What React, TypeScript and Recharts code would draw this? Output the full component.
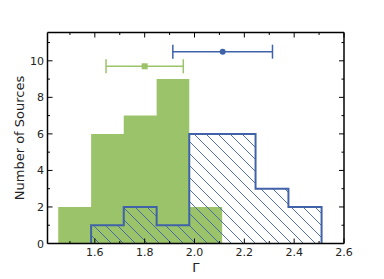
import { ComposedChart, Area, Scatter, ErrorBar, XAxis, YAxis } from 'recharts';

// histogram bins (photon index Gamma)
const binEdges = [1.453, 1.585, 1.716, 1.848, 1.979, 2.111, 2.245, 2.377, 2.51];
const greenCounts = [2, 6, 7, 9, 2, 0, 0, 0];
const blueCounts = [0, 1, 2, 1, 6, 6, 3, 2];

// mean +/- spread markers
const greenMean = [{ x: 1.8, y: 9.7, err: 0.155 }];
const blueMean = [{ x: 2.113, y: 10.5, err: 0.2 }];

const xMajor = [1.6, 1.8, 2.0, 2.2, 2.4, 2.6];
const xMinor = [1.5, 1.7, 1.9, 2.1, 2.3, 2.5];
const yMajor = [0, 2, 4, 6, 8, 10];
const yMinor = [1, 3, 5, 7, 9, 11];

const GREEN = '#9bc36a';
const BLUE = '#3f62a9';
const FONT = '"DejaVu Sans", sans-serif';

function toSteps(edges: number[], counts: number[]) {
  const first = counts.findIndex((c) => c > 0);
  let last = counts.length - 1;
  while (counts[last] === 0) last--;
  const pts = [{ x: edges[first], y: 0 }];
  for (let i = first; i <= last; i++) pts.push({ x: edges[i], y: counts[i] });
  pts.push({ x: edges[last + 1], y: 0 });
  return pts;
}

const greenSteps = toSteps(binEdges, greenCounts);
const blueSteps = toSteps(binEdges, blueCounts);

const tickLen = (major: boolean) => (major ? 5 : 2.5);

const BottomTick = ({ x, y, payload }: any) => {
  const major = xMajor.includes(payload.value);
  return (
    <g>
      <line x1={x} x2={x} y1={y} y2={y - tickLen(major)} stroke="#000" strokeWidth={1} />
      {major && (
        <text x={x} y={y + 12.8} textAnchor="middle" fontSize={11} fontFamily={FONT} fill="#222">
          {payload.value.toFixed(1)}
        </text>
      )}
    </g>
  );
};

const TopTick = ({ x, y, payload }: any) => {
  const major = xMajor.includes(payload.value);
  return <line x1={x} x2={x} y1={y} y2={y + tickLen(major)} stroke="#000" strokeWidth={1} />;
};

const LeftTick = ({ x, y, payload }: any) => {
  const major = yMajor.includes(payload.value);
  return (
    <g>
      <line x1={x} x2={x + tickLen(major)} y1={y} y2={y} stroke="#000" strokeWidth={1} />
      {major && (
        <text x={x - 3.5} y={y + 4} textAnchor="end" fontSize={11} fontFamily={FONT} fill="#222">
          {payload.value}
        </text>
      )}
    </g>
  );
};

const RightTick = ({ x, y, payload }: any) => {
  const major = yMajor.includes(payload.value);
  return <line x1={x} x2={x - tickLen(major)} y1={y} y2={y} stroke="#000" strokeWidth={1} />;
};

const Square = ({ cx, cy }: any) => <rect x={cx - 3} y={cy - 3} width={6} height={6} fill={GREEN} />;
const Dot = ({ cx, cy }: any) => <circle cx={cx} cy={cy} r={3} fill={BLUE} />;

const axisLine = { stroke: '#000', strokeWidth: 1.5 };

export default function App() {
  return (
    <div style={{ position: 'fixed', left: 0, top: 0, background: '#fff' }}>
      <ComposedChart width={384} height={279} margin={{ top: 31.5, right: 39, bottom: 34.5, left: 46.5 }}>
        <defs>
          <pattern id="hatch" patternUnits="userSpaceOnUse" width={12} height={12}>
            <path d="M0,0 L12,12 M-3,9 L3,15 M9,-3 L15,3" stroke={BLUE} strokeWidth={0.9} />
          </pattern>
        </defs>
        <XAxis
          xAxisId="b" dataKey="x" type="number" domain={[1.41, 2.6]} allowDataOverflow
          ticks={[...xMinor, ...xMajor]} interval={0} height={1} tickSize={0} tickMargin={0}
          tick={<BottomTick />} tickLine={false} axisLine={axisLine}
          label={{
            content: ({ viewBox }: any) => (
              <text x={viewBox.x + viewBox.width / 2} y={272} textAnchor="middle" fontSize={13} fontFamily={FONT} fill="#222">
                Γ
              </text>
            ),
          }}
        />
        <XAxis
          xAxisId="t" orientation="top" dataKey="x" type="number" domain={[1.41, 2.6]} allowDataOverflow
          ticks={[...xMinor, ...xMajor]} interval={0} height={1} tickSize={0} tickMargin={0}
          tick={<TopTick />} tickLine={false} axisLine={axisLine}
        />
        <YAxis
          yAxisId="l" type="number" domain={[0, 11.55]} allowDataOverflow
          ticks={[...yMinor, ...yMajor]} interval={0} width={1} tickSize={0} tickMargin={0}
          tick={<LeftTick />} tickLine={false} axisLine={axisLine}
          label={{
            content: ({ viewBox }: any) => {
              const cx = 19.5;
              const cy = viewBox.y + viewBox.height / 2;
              return (
                <text x={cx} y={cy} transform={`rotate(-90 ${cx} ${cy})`} textAnchor="middle" dominantBaseline="central" fontSize={13} fontFamily={FONT} fill="#222">
                  Number of Sources
                </text>
              );
            },
          }}
        />
        <YAxis
          yAxisId="r" orientation="right" type="number" domain={[0, 11.55]} allowDataOverflow
          ticks={[...yMinor, ...yMajor]} interval={0} width={1} tickSize={0} tickMargin={0}
          tick={<RightTick />} tickLine={false} axisLine={axisLine}
        />
        <Area
          xAxisId="b" yAxisId="l" data={greenSteps} dataKey="y" type="stepAfter"
          fill={GREEN} fillOpacity={1} stroke="none" dot={false} activeDot={false} isAnimationActive={false}
        />
        <Area
          xAxisId="b" yAxisId="l" data={blueSteps} dataKey="y" type="stepAfter"
          fill="url(#hatch)" fillOpacity={1} stroke={BLUE} strokeWidth={2} dot={false} activeDot={false} isAnimationActive={false}
        />
        <Scatter xAxisId="b" yAxisId="l" data={greenMean} dataKey="y" shape={<Square />} isAnimationActive={false}>
          <ErrorBar dataKey="err" direction="x" stroke={GREEN} strokeWidth={1.5} width={7} isAnimationActive={false} />
        </Scatter>
        <Scatter xAxisId="b" yAxisId="l" data={blueMean} dataKey="y" shape={<Dot />} isAnimationActive={false}>
          <ErrorBar dataKey="err" direction="x" stroke={BLUE} strokeWidth={1.5} width={7} isAnimationActive={false} />
        </Scatter>
      </ComposedChart>
    </div>
  );
}
